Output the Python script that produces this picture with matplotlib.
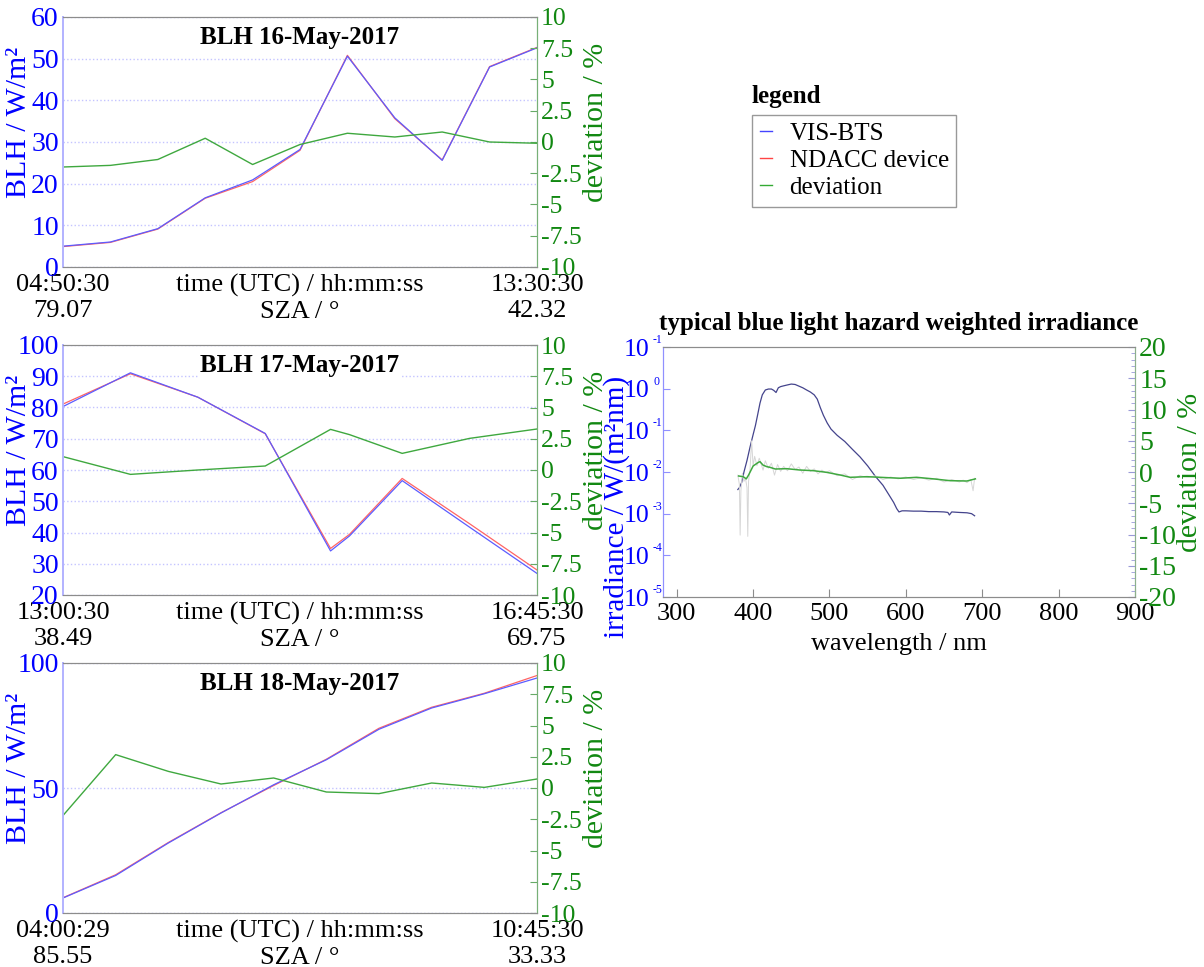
import matplotlib
matplotlib.use("Agg")
import matplotlib.pyplot as plt
from matplotlib.lines import Line2D
from matplotlib.ticker import MultipleLocator, FixedLocator, FixedFormatter

plt.rcParams['font.family'] = ['Liberation Serif', 'DejaVu Serif']
plt.rcParams['axes.unicode_minus'] = False

# --- datos: BLH 16-May-2017 (minutos desde 04:50:30) ---
t_16 = [0, 52, 104, 156, 208, 260, 312, 364, 416, 468, 520]
vis_16 = [5.0, 6.0, 9.2, 16.6, 20.9, 28.2, 50.6, 35.8, 25.6, 48.0, 52.6]
ndacc_16 = [4.9, 5.9, 9.1, 16.5, 20.5, 28.0, 50.8, 35.6, 25.7, 48.1, 52.7]
dev_16 = [-2.0, -1.87, -1.4, 0.3, -1.8, -0.2, 0.7, 0.4, 0.8, 0.0, -0.1]

# --- BLH 17-May-2017 (minutos desde 13:00:30) ---
t_17 = [0, 32, 64, 96, 127, 136, 161, 193, 225]
vis_17 = [80.3, 91.1, 83.3, 71.7, 34.1, 38.9, 56.6, 41.7, 26.9]
ndacc_17 = [81.1, 90.8, 83.3, 71.6, 34.9, 39.4, 57.3, 42.8, 28.0]
dev_17 = [1.07, -0.35, 0.0, 0.32, 3.25, 2.83, 1.33, 2.53, 3.28]

# --- BLH 18-May-2017 (minutos desde 04:00:29) ---
t_18 = [0, 45, 90, 135, 180, 225, 270, 315, 360, 405]
vis_18 = [6.0, 15.0, 28.0, 40.0, 51.3, 61.3, 73.5, 82.0, 87.7, 94.0]
ndacc_18 = [6.1, 15.3, 28.2, 40.1, 51.0, 61.5, 73.9, 82.3, 87.9, 95.0]
dev_18 = [-2.2, 2.67, 1.33, 0.32, 0.8, -0.32, -0.45, 0.4, 0.05, 0.72]

# --- espectro típico ---
wl = [380, 382, 385, 388, 392, 396, 400, 403, 406, 409, 412, 416, 420, 424, 427,
      430, 433, 436, 440, 445, 450, 455, 460, 465, 470, 475, 480, 484, 488, 492,
      497, 502, 510, 520, 530, 540, 550, 560, 570, 578, 584, 588, 591, 595, 600,
      610, 620, 630, 640, 650, 655, 657, 660, 670, 680, 686, 690]
irr = [3.8e-3, 4.2e-3, 5.6e-3, 1.0e-2, 1.9e-2, 4.0e-2, 7.9e-2, 0.13, 0.24, 0.45,
       0.71, 0.93, 0.98, 0.98, 0.91, 0.81, 1.05, 1.12, 1.17, 1.23, 1.29, 1.26,
       1.15, 1.05, 0.93, 0.83, 0.71, 0.56, 0.35, 0.23, 0.15, 0.107, 0.076, 0.054,
       0.035, 0.023, 0.014, 7.9e-3, 4.8e-3, 2.8e-3, 1.86e-3, 1.32e-3, 1.10e-3,
       1.17e-3, 1.17e-3, 1.15e-3, 1.15e-3, 1.12e-3, 1.12e-3, 1.10e-3, 1.07e-3,
       9.3e-4, 1.10e-3, 1.07e-3, 1.05e-3, 1.0e-3, 8.9e-4]

wl_dev = [381, 387, 391, 394, 400, 404, 407, 409, 413, 418, 422, 429, 444, 461,
          479, 496, 514, 527, 549, 575, 593, 614, 636, 658, 680, 691]
dev_smooth = [-0.64, -0.75, -1.1, -0.5, 0.96, 1.3, 1.55, 1.65, 1.1, 0.85, 0.75,
              0.48, 0.53, 0.32, 0.21, -0.05, -0.48, -0.85, -0.75, -0.9, -1.0,
              -0.85, -1.1, -1.39, -1.44, -1.1]

wl_raw = [380, 382, 383, 384, 386, 388, 390, 392, 393, 394, 396, 398, 400, 402,
          405, 408, 410, 413, 416, 420, 424, 428, 432, 436, 440, 445, 450, 455,
          460, 465, 470, 475, 480, 485, 490, 495, 500, 510, 520, 530, 540, 550,
          560, 570, 580, 590, 600, 610, 620, 630, 640, 650, 660, 670, 675, 680,
          685, 688, 690]
dev_raw = [-0.5, -2.0, -10.1, -3.0, -0.2, -1.5, -1.0, -2.5, -10.3, -1.5, 0.5, 5.0,
           1.0, 2.5, 1.0, 2.2, 1.5, 0.3, 1.8, 0.6, 1.4, -0.5, 1.2, 0.1, 0.9, 0.2,
           1.3, 0.4, 0.8, -0.2, 0.9, 0.1, 0.5, -0.3, 0.3, -0.1, 0.2, -0.6, -0.3,
           -1.2, -0.6, -0.9, -0.6, -1.2, -0.8, -1.1, -0.8, -1.2, -0.9, -1.3, -1.0,
           -1.6, -1.2, -1.6, -1.3, -1.7, -1.2, -3.0, -1.0]

irr_ticks = [1e-5, 1e-4, 1e-3, 1e-2, 1e-1, 1e0, 1e1]
irr_exponents = ['-5', '-4', '-3', '-2', '-1', '0', '-1']  # tal cual el original

W, H = 1204, 967
BLUE = '#0000ff'
GREEN = '#118811'
C_VIS = '#5c5cff'
C_NDACC = '#ff6464'
C_DEV = '#3fa83f'
FS = 19      # etiquetas del eje x
FSY = 20     # etiquetas del eje y izquierdo
FSR = 18.5   # etiquetas del eje de desviación
FSL = 21.5   # títulos de ejes y

fig = plt.figure(figsize=(W / 100, H / 100), dpi=100)


def rect(x0, y0, x1, y1):
    return [x0 / W, 1 - y1 / H, (x1 - x0) / W, (y1 - y0) / H]


def panel_blh(r, titulo, t, vis, ndacc, dev, ylim, ystep, t0, t1, sza0, sza1):
    ax = fig.add_axes(r)
    ax2 = ax.twinx()
    ax.plot(t, ndacc, color=C_NDACC, lw=0.9)
    ax.plot(t, vis, color=C_VIS, lw=0.9)
    ax2.plot(t, dev, color=C_DEV, lw=1.0)

    ax.set_xlim(t[0], t[-1])
    ax.set_ylim(*ylim)
    ax.yaxis.set_major_locator(MultipleLocator(ystep))
    ax2.set_ylim(-10, 10)
    ax2.yaxis.set_major_locator(MultipleLocator(2.5))
    ax2.yaxis.set_major_formatter(plt.FuncFormatter(lambda v, p: f"{v:g}"))

    ax.yaxis.grid(True, color='#c4c4ff', ls=':', lw=1.0)
    ax.set_axisbelow(True)

    ax.set_xticks([t[0], (t[0] + t[-1]) / 2, t[-1]])
    ax.set_xticklabels([t0 + "\n" + sza0, "time (UTC) / hh:mm:ss\nSZA / °", t1 + "\n" + sza1])
    for lbl in ax.get_xticklabels():
        lbl.set_linespacing(1.25)
    ax.tick_params(axis='x', length=0, pad=5, labelsize=FS, labelcolor='black')
    ax.tick_params(axis='y', length=0, pad=3, labelsize=FSY, labelcolor=BLUE)
    ax2.tick_params(axis='y', direction='in', length=5, color='#66aa66', pad=3,
                    labelsize=FSR, labelcolor=GREEN)

    for a in (ax, ax2):
        a.spines['top'].set_color('#8c8c8c')
        a.spines['bottom'].set_color('#8c8c8c')
        a.spines['left'].set_color('#b4b4ff')
        a.spines['left'].set_linewidth(1.4)
        a.spines['right'].set_color('#77b077')

    ax.set_ylabel("BLH / W/m²", color=BLUE, fontsize=FSL)
    ax.yaxis.set_label_coords(-0.066, 0.58)
    ax2.set_ylabel("deviation / %", color=GREEN, fontsize=FSL)
    ax2.yaxis.set_label_coords(1.098, 0.58)

    ax2.text(0.5, 0.965, titulo, transform=ax.transAxes, ha='center', va='top',
             fontsize=18, fontweight='bold',
             bbox=dict(facecolor='white', edgecolor='none', pad=1))
    return ax, ax2


panel_blh(rect(63, 17, 537, 267), "BLH 16-May-2017", t_16, vis_16, ndacc_16, dev_16,
          (0, 60), 10, "04:50:30", "13:30:30", "79.07", "42.32")
panel_blh(rect(63, 345, 537, 595), "BLH 17-May-2017", t_17, vis_17, ndacc_17, dev_17,
          (20, 100), 10, "13:00:30", "16:45:30", "38.49", "69.75")
panel_blh(rect(63, 663, 537, 913), "BLH 18-May-2017", t_18, vis_18, ndacc_18, dev_18,
          (0, 100), 50, "04:00:29", "10:45:30", "85.55", "33.33")

# --- panel del espectro ---
axs = fig.add_axes(rect(663, 347, 1135, 597))
axd = axs.twinx()
axs.plot(wl, irr, color='#44448c', lw=0.9)
axd.plot(wl_raw, dev_raw, color='#d6d6d6', lw=0.7)
axd.plot(wl_dev, dev_smooth, color=C_DEV, lw=1.1)

axs.set_yscale('log')
axs.set_ylim(1e-5, 1e1)
axs.yaxis.set_major_locator(FixedLocator(irr_ticks))
axs.yaxis.set_major_formatter(FixedFormatter(['10'] * len(irr_ticks)))
# exponentes pequeños, como en el original
for tk, ex in zip(irr_ticks, irr_exponents):
    axs.annotate(ex, xy=(0, tk), xycoords=('axes fraction', 'data'),
                 xytext=(-10, 13), textcoords='offset pixels', ha='left', va='top',
                 fontsize=8.5, color=BLUE, annotation_clip=False)
axs.set_xlim(282, 900)
axs.xaxis.set_major_locator(MultipleLocator(100))
axd.set_ylim(-20, 20)
axd.yaxis.set_major_locator(MultipleLocator(5))
axd.yaxis.set_minor_locator(MultipleLocator(1))

axs.tick_params(axis='x', direction='in', length=6, color='#8c8c8c', labelsize=FS, pad=4)
axs.tick_params(axis='y', which='both', direction='in', color='#9090ff', labelsize=18.5,
                labelcolor=BLUE, pad=10)
axs.tick_params(axis='y', which='major', length=5)
axs.tick_params(axis='y', which='minor', length=3)
axd.tick_params(axis='y', which='both', direction='in', color='#9a9ad8', labelsize=FSY,
                labelcolor=GREEN, pad=3)
axd.tick_params(axis='y', which='major', length=5)
axd.tick_params(axis='y', which='minor', length=3)

for a in (axs, axd):
    a.spines['top'].set_color('#8c8c8c')
    a.spines['bottom'].set_color('#8c8c8c')
    a.spines['left'].set_color('#9090ff')
    a.spines['right'].set_color('#8cb08c')

axs.set_xlabel("wavelength / nm", fontsize=FS, labelpad=6)
axs.set_ylabel("irradiance / W/(m²nm)", color=BLUE, fontsize=21)
axs.yaxis.set_label_coords(-0.069, 0.36)
axd.set_ylabel("deviation / %", color=GREEN, fontsize=FSL)
axd.yaxis.set_label_coords(1.088, 0.5)
axs.set_title("typical blue light hazard weighted irradiance", fontsize=18,
              fontweight='bold', pad=12)

# --- leyenda ---
fig.text(752 / W, 1 - 97 / H, "legend", fontsize=18, fontweight='bold', va='center')
handles = [Line2D([], [], color='#4444ff', lw=1),
           Line2D([], [], color='#ff4444', lw=1),
           Line2D([], [], color='#33aa33', lw=1)]
fig.legend(handles, ["VIS-BTS", "NDACC device", "deviation"], loc='upper left',
           bbox_to_anchor=(752 / W, 1 - 115 / H), fontsize=18, frameon=True,
           fancybox=False, edgecolor='#999999', framealpha=1, handlelength=0.5,
           handletextpad=0.7, borderpad=0.3, labelspacing=0.18, borderaxespad=0)

fig.savefig("out.png", dpi=100)
